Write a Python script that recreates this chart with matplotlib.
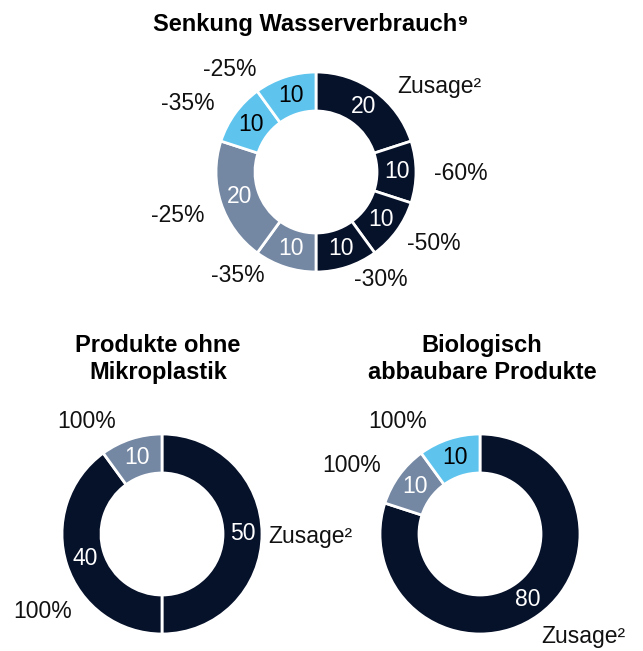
import matplotlib.pyplot as plt
import numpy as np

plt.rcParams['font.family'] = ['Liberation Sans', 'DejaVu Sans']

DARK = '#06112a'
GREY = '#7487a3'
LIGHT = '#5ec4ee'

# Senkung Wasserverbrauch
water_values = [20, 10, 10, 10, 10, 20, 10, 10]
water_colors = [DARK, DARK, DARK, DARK, GREY, GREY, LIGHT, LIGHT]
water_labels = ['Zusage²', '-60%', '-50%', '-30%', '-35%', '-25%', '-35%', '-25%']

# Produkte ohne Mikroplastik
micro_values = [50, 40, 10]
micro_colors = [DARK, DARK, GREY]
micro_labels = ['Zusage²', '100%', '100%']

# Biologisch abbaubare Produkte
bio_values = [80, 10, 10]
bio_colors = [DARK, GREY, LIGHT]
bio_labels = ['Zusage²', '100%', '100%']

W, H = 643, 651
fig = plt.figure(figsize=(W / 100, H / 100), dpi=100)
ax = fig.add_axes([0, 0, 1, 1])
FS = 16.5


def donut(cx, cy, values, colors, labels, label_pos, r=100, width=39):
    cy = H - cy
    wedges, _ = ax.pie(values, colors=colors, center=(cx, cy), radius=r,
                       startangle=90, counterclock=False,
                       wedgeprops=dict(width=width, edgecolor='white', linewidth=2))
    for w, v in zip(wedges, values):
        ang = np.deg2rad((w.theta1 + w.theta2) / 2)
        rr = r - width / 2
        tc = 'black' if w.get_facecolor()[2] > 0.85 else 'white'
        ax.text(cx + rr * np.cos(ang), cy + rr * np.sin(ang), str(v),
                ha='center', va='center', fontsize=FS, color=tc)
    for lab, (x, y, ha) in zip(labels, label_pos):
        ax.text(x, H - y, lab, ha=ha, va='center', fontsize=FS, color='#111111')


donut(316, 172, water_values, water_colors, water_labels,
      [(397, 87, 'left'), (461, 174, 'center'), (434, 243, 'center'),
       (381, 280, 'center'), (238, 275, 'center'), (178, 216, 'center'),
       (188, 103, 'center'), (230, 70, 'center')])
donut(162, 534, micro_values, micro_colors, micro_labels,
      [(268, 537, 'left'), (43, 612, 'center'), (87, 421, 'center')])
donut(480, 534, bio_values, bio_colors, bio_labels,
      [(541, 637, 'left'), (352, 466, 'center'), (398, 421, 'center')])

ax.text(311, H - 24, 'Senkung Wasserverbrauch⁹', ha='center', va='center',
        fontsize=17, fontweight='bold')
ax.text(158, H - 359, 'Produkte ohne\nMikroplastik', ha='center', va='center',
        fontsize=17, fontweight='bold', linespacing=1.2)
ax.text(482, H - 359, 'Biologisch\nabbaubare Produkte', ha='center', va='center',
        fontsize=17, fontweight='bold', linespacing=1.2)

ax.set_xlim(0, W)
ax.set_ylim(0, H)
ax.set_aspect('auto')
ax.axis('off')
fig.savefig('out.png', dpi=100)
